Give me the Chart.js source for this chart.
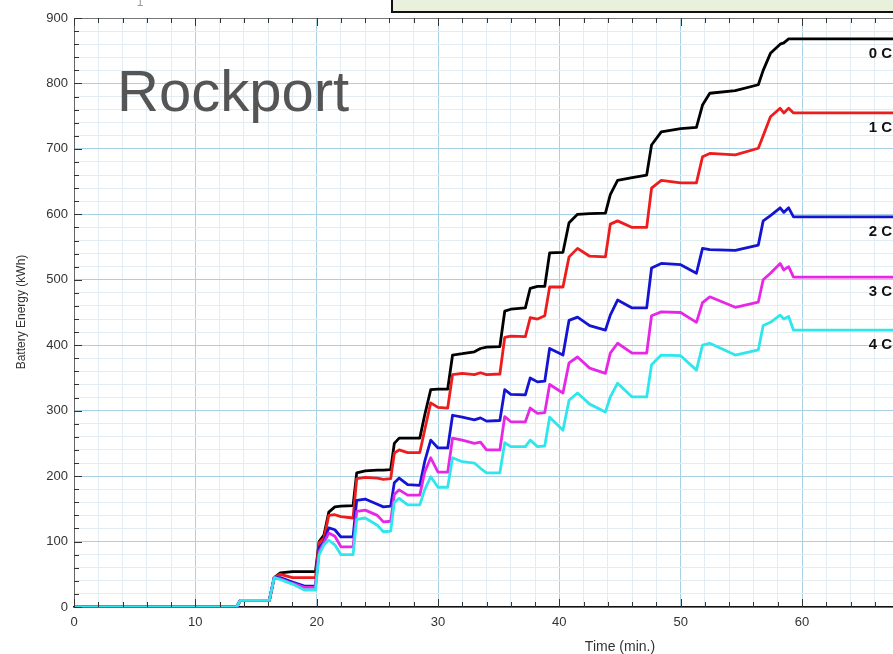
<!DOCTYPE html>
<html>
<head>
<meta charset="utf-8">
<script src="https://cdn.jsdelivr.net/npm/chart.js@4/dist/chart.umd.min.js"></script>
<style>
  html,body{margin:0;padding:0;background:#fff;}
  #wrap{width:893px;height:654px;}
</style>
</head>
<body>
<div id="wrap"><canvas id="chart" width="893" height="654"></canvas></div>
<script>
// time (min.) shared by all curves
const times = [0,13.4,13.7,16.1,16.5,17.0,18.0,19.0,19.9,20.2,20.6,21.0,21.5,22.0,23.0,23.3,24.0,25.0,25.5,26.1,
  26.4,26.8,27.5,28.5,28.9,29.4,30.0,30.8,31.2,32.0,33.0,33.5,34.0,35.1,35.5,36.0,37.2,37.6,38.2,38.8,
  39.2,40.3,40.8,41.5,42.5,43.8,44.2,44.8,46.0,47.2,47.6,48.4,50.0,51.3,51.8,52.4,54.5,56.4,56.8,57.4,
  58.2,58.5,58.9,59.3,68];
// battery energy (kWh)
const energy0C = [0,0,10,10,45,52,54,54,54,100,110,145,153,154,155,205,208,209,209,210,
  250,258,258,258,293,332,333,333,385,387,390,395,397,398,452,455,457,487,490,490,
  541,542,587,600,601,602,630,652,656,660,706,726,731,733,767,785,789,798,820,846,
  860,862,868,868,868];
const energy1C = [0,0,10,10,45,50,45,45,45,98,105,140,141,138,136,196,198,197,195,196,
  235,240,236,236,270,312,305,304,355,357,355,358,355,356,412,414,413,442,440,445,
  489,489,535,548,536,535,585,590,580,580,640,652,648,648,688,693,691,701,720,749,
  762,755,762,755,755];
const energy2C = [0,0,10,10,45,45,38,32,32,90,100,121,118,107,107,163,165,157,153,154,
  190,197,187,186,222,255,243,243,293,290,286,289,284,285,332,325,324,350,344,345,
  395,385,438,443,430,423,446,469,457,457,518,525,523,510,548,546,545,553,590,598,
  610,603,610,596,596];
const energy3C = [0,0,10,10,45,43,36,30,30,85,98,113,108,92,92,146,148,140,130,131,
  172,179,171,171,206,228,206,206,258,255,250,252,240,240,291,283,283,304,296,297,
  340,327,373,382,365,357,388,403,388,388,445,451,450,435,465,474,458,466,500,510,
  525,515,520,504,504];
const energy4C = [0,0,10,10,45,42,35,26,26,80,95,102,95,80,80,134,136,125,115,116,
  160,166,156,156,179,199,183,183,228,222,220,212,205,205,251,245,245,255,245,246,
  290,270,316,327,310,298,321,342,321,321,370,385,384,362,400,403,385,393,430,435,
  446,440,444,423,423];
const seriesNames = ['0 C','1 C','2 C','3 C','4 C'];
const seriesColors = ['#000000','#ee1c1c','#1414d2','#e628e6','#2ee6ec'];
const allSeries = [energy0C,energy1C,energy2C,energy3C,energy4C];

const MAJOR='#a9d1e3', MINOR='#e1ecf3';

const decor = {
  id:'decor',
  beforeDraw(c){
    const g=c.ctx;
    g.save();
    g.fillStyle='#fff';g.fillRect(0,0,c.width,c.height);
    // box cut off at the top
    g.fillStyle='#e9f1dd';g.fillRect(392,-5,520,17);
    g.strokeStyle='#111';g.lineWidth=2;g.strokeRect(392,-5,520,17);
    g.fillStyle='#999';g.font='12px "Liberation Sans",Arial';g.textAlign='center';g.textBaseline='alphabetic';
    g.fillText('1',140,6);
    g.restore();
  },
  afterDraw(c){
    const g=c.ctx, a=c.chartArea, xs=c.scales.x, ys=c.scales.y;
    g.save();
    // frame line at the top
    g.strokeStyle='#777';g.lineWidth=1;
    g.beginPath();g.moveTo(a.left,a.top+0.5);g.lineTo(a.right,a.top+0.5);g.stroke();
    // inward tick marks
    g.strokeStyle='#333';g.lineWidth=1;
    xs.ticks.forEach(t=>{
      const px=Math.round(xs.getPixelForValue(t.value))+0.5, len=t.value%10===0?8:5;
      g.beginPath();g.moveTo(px,a.bottom);g.lineTo(px,a.bottom-len);g.moveTo(px,a.top);g.lineTo(px,a.top+len);g.stroke();
    });
    ys.ticks.forEach(t=>{
      const py=Math.round(ys.getPixelForValue(t.value))+0.5, len=t.value%100===0?8:5;
      g.beginPath();g.moveTo(a.left,py);g.lineTo(a.left+len,py);g.stroke();
    });
    // curve labels
    g.fillStyle='#111';g.font='bold 15px "Liberation Sans",Arial';g.textAlign='left';g.textBaseline='middle';
    allSeries.forEach((s,i)=>{
      const last=s[s.length-1];
      g.fillText(seriesNames[i],xs.getPixelForValue(65.5),ys.getPixelForValue(last)+15);
    });
    // big site name
    g.fillStyle='#555';g.font='58px "Liberation Sans",Arial';g.textBaseline='alphabetic';
    g.fillText('Rockport',117,111);
    // axis titles
    g.fillStyle='#333';g.font='14px "Liberation Sans",Arial';g.textAlign='center';
    g.fillText('Time (min.)',620,651);
    g.translate(22,312);g.rotate(-Math.PI/2);
    g.font='12px "Liberation Sans",Arial';g.textBaseline='middle';
    g.fillText('Battery Energy (kWh)',0,0);
    g.restore();
  }
};

new Chart(document.getElementById('chart'),{
  type:'line',
  data:{
    datasets:allSeries.map((s,i)=>({
      label:seriesNames[i],
      data:times.map((t,j)=>({x:t,y:s[j]})),
      borderColor:seriesColors[i],
      borderWidth:2.8,
      pointRadius:0,
      tension:0,
      borderJoinStyle:'round',
      order:4-i
    }))
  },
  options:{
    responsive:false,
    animation:false,
    devicePixelRatio:1,
    layout:{padding:{top:18,left:0,right:0,bottom:0}},
    plugins:{legend:{display:false},tooltip:{enabled:false}},
    scales:{
      x:{
        type:'linear',min:0,max:67.5,
        afterFit(s){s.height=47;},
        ticks:{stepSize:2,includeBounds:false,autoSkip:false,maxRotation:0,padding:8,color:'#333',
          font:{family:'"Liberation Sans",Arial',size:13},
          callback:v=>v%10===0?v:''},
        grid:{drawTicks:false,color:ctx=>ctx.tick&&ctx.tick.value%10===0?MAJOR:MINOR,lineWidth:1},
        border:{color:'#111',width:1.5}
      },
      y:{
        min:0,max:900,
        afterFit(s){s.width=74;},
        ticks:{stepSize:20,autoSkip:false,padding:6,color:'#333',
          font:{family:'"Liberation Sans",Arial',size:13},
          callback:v=>v%100===0?v:''},
        grid:{drawTicks:false,color:ctx=>ctx.tick&&ctx.tick.value%100===0?MAJOR:MINOR,lineWidth:1},
        border:{color:'#666',width:1}
      }
    }
  },
  plugins:[decor]
});
</script>
</body>
</html>
